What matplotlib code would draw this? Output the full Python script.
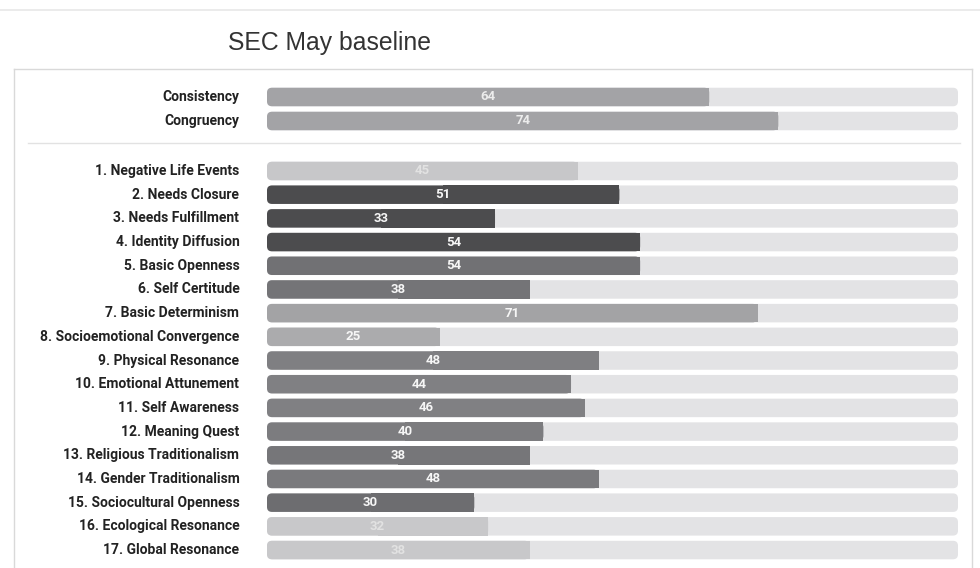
import numpy as np
import matplotlib.pyplot as plt
from matplotlib.patches import FancyBboxPatch, Rectangle
from matplotlib.lines import Line2D

# summary scores and the 17 scales
summary_labels = ['Consistency', 'Congruency']
summary_values = [64, 74]

scale_labels = ['1. Negative Life Events', '2. Needs Closure', '3. Needs Fulfillment',
                '4. Identity Diffusion', '5. Basic Openness', '6. Self Certitude',
                '7. Basic Determinism', '8. Socioemotional Convergence',
                '9. Physical Resonance', '10. Emotional Attunement', '11. Self Awareness',
                '12. Meaning Quest', '13. Religious Traditionalism',
                '14. Gender Traditionalism', '15. Sociocultural Openness',
                '16. Ecological Resonance', '17. Global Resonance']
scale_values = [45, 51, 33, 54, 54, 38, 71, 25, 48, 44, 46, 40, 38, 48, 30, 32, 38]

summary_colors = ['#a3a3a6', '#a3a3a6']
scale_colors = ['#c7c7c9', '#4c4c4e', '#4c4c4e', '#4c4c4e', '#717174', '#747477',
                '#a3a3a5', '#ababad', '#7f7f82', '#808083', '#808083', '#7c7c7f',
                '#767679', '#7a7a7d', '#6d6d70', '#c8c8ca', '#c8c8ca']
light_rows = [0, 15, 16]

W, H = 980, 568
fig = plt.figure(figsize=(W / 100, H / 100), dpi=100)
fig.patch.set_facecolor('white')

# axes: x 0..100 spans the bar track, rows spaced ~23.7 px
x0, x1 = 267, 958
y_top, y_bot = 69, 568
row0, dy = 171, 23.69
ax = fig.add_axes([x0 / W, 0, (x1 - x0) / W, (y_bot - y_top) / H])
ax.set_xlim(0, 100)
ax.set_ylim((y_bot - row0) / dy, (y_top - row0) / dy)
ax.axis('off')

px_x = 100 / (x1 - x0)
rad = 5 * px_x
asp = (1 / dy) / px_x
bh = 18.5 / dy


def draw_bar(y, val, color, label, txtcolor):
    track = FancyBboxPatch((0, y - bh / 2), 100, bh,
                           boxstyle='round,pad=0,rounding_size=%f' % rad,
                           mutation_aspect=asp, fc='#e3e3e5', ec='none', zorder=1)
    ax.add_patch(track)
    bar = FancyBboxPatch((0, y - bh / 2), val, bh,
                         boxstyle='round,pad=0,rounding_size=%f' % rad,
                         mutation_aspect=asp, fc=color, ec='none', zorder=2)
    ax.add_patch(bar)
    # square off the right end of the value bar
    ax.add_patch(Rectangle((val / 2, y - bh / 2), val / 2, bh, fc=color, ec='none', zorder=2))
    ax.text(val / 2, y, str(val), ha='center', va='center', color=txtcolor,
            fontsize=9.5, fontweight='bold', family='Roboto', zorder=3)
    ax.text(-4.0, y, label, ha='right', va='center', color='#222222',
            fontsize=10, fontweight='bold', family='Roboto', clip_on=False)


summary_y = [(97 - row0) / dy, (121 - row0) / dy]
for y, v, c, lab in zip(summary_y, summary_values, summary_colors, summary_labels):
    draw_bar(y, v, c, lab, '#ececec')

for i, (v, c, lab) in enumerate(zip(scale_values, scale_colors, scale_labels)):
    tc = '#e2e2e2' if i in light_rows else '#f6f6f6'
    draw_bar(i, v, c, lab, tc)

# frame lines and separator (figure pixel coords)
def fline(xs, ys, color, lw=1.0):
    fig.add_artist(Line2D([x / W for x in xs], [1 - y / H for y in ys],
                          color=color, lw=lw))

fline([0, 980], [10, 10], '#e8e8e8', 1.2)
fline([14, 972], [69, 69], '#d9d9d9', 1.0)
fline([14, 14], [69, 568], '#d9d9d9', 1.0)
fline([972, 972], [69, 568], '#d9d9d9', 1.0)
fline([28, 960], [143, 143], '#e2e2e2', 1.0)

fig.text(330 / W, 1 - 43 / H, 'SEC May baseline', ha='center', va='center',
         fontsize=17.8, color='#333333', family='Liberation Sans')

fig.savefig('out.png', dpi=100)
